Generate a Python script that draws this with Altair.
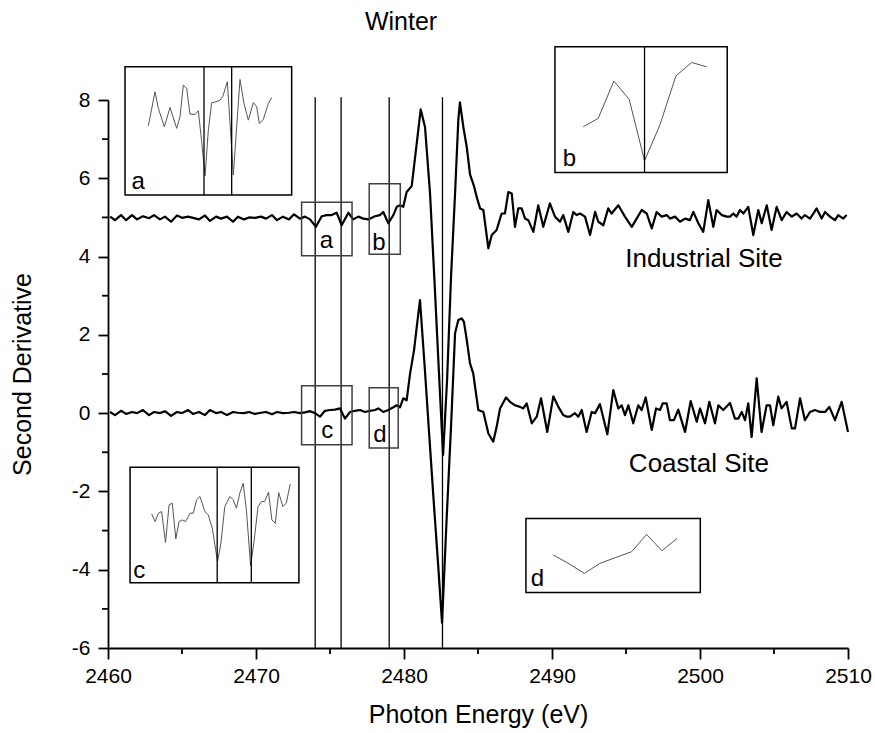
import altair as alt
import pandas as pd

FONT = "Liberation Sans"

# ---------------- main spectra (photon energy eV, second derivative) ----------------
ind_x = [2460.14, 2460.47, 2460.88, 2461.22, 2461.62, 2461.96, 2462.36, 2462.77, 2463.11, 2463.51,
         2463.85, 2464.26, 2464.66, 2465.00, 2465.41, 2465.74, 2466.15, 2466.55, 2466.89, 2467.30,
         2467.64, 2468.04, 2468.45, 2468.78, 2469.19, 2469.53, 2469.93, 2470.34, 2470.68, 2471.08,
         2471.42, 2471.82, 2472.23, 2472.57,
         2472.97, 2473.31, 2473.65, 2474.05, 2474.44, 2474.78, 2475.11, 2475.45, 2475.79, 2476.24,
         2476.57, 2476.91, 2477.25, 2477.59, 2478.04, 2478.38, 2478.60, 2478.94, 2479.28, 2479.51,
         2479.73, 2479.95, 2480.18, 2480.52, 2480.86, 2481.13, 2481.42, 2481.76, 2482.05, 2482.36,
         2482.64, 2482.91, 2483.18, 2483.45, 2483.67, 2483.78, 2484.01, 2484.24, 2484.46, 2484.73,
         2484.93, 2485.14, 2485.36, 2485.70,
         2485.93, 2486.26, 2486.49, 2486.60, 2486.82, 2487.05, 2487.28, 2487.50, 2487.72, 2487.95,
         2488.18, 2488.40, 2488.74, 2489.07, 2489.41, 2489.86, 2490.20, 2490.54, 2490.76, 2491.10,
         2491.44, 2491.67, 2491.89, 2492.23, 2492.57, 2492.91, 2493.13, 2493.47, 2493.80, 2494.03,
         2494.48, 2494.93, 2495.39, 2495.72, 2496.06, 2496.40, 2496.74, 2497.07, 2497.41, 2497.75,
         2497.97, 2498.31, 2498.65, 2498.99, 2499.32, 2499.55, 2499.89, 2500.22, 2500.56, 2500.90,
         2501.12, 2501.47, 2501.80, 2502.03, 2502.25, 2502.47, 2502.70, 2502.93, 2503.26, 2503.60,
         2503.94, 2504.17, 2504.51, 2504.84, 2505.18, 2505.52, 2505.85, 2506.20, 2506.53, 2506.86,
         2507.09, 2507.43, 2507.66, 2507.88, 2508.22, 2508.45, 2508.78, 2509.12, 2509.34, 2509.68,
         2509.91]
ind_y = [5.02, 4.93, 5.06, 4.93, 5.06, 4.95, 5.03, 4.98, 5.06, 4.95,
         5.02, 4.89, 5.05, 4.99, 5.02, 4.99, 4.95, 5.05, 4.91, 5.02,
         4.97, 5.02, 4.89, 5.02, 4.95, 5.00, 4.99, 5.02, 4.97, 5.06,
         4.93, 5.02, 4.95, 5.08,
         4.97, 5.02, 4.95, 4.76, 5.03, 5.06, 5.06, 5.12, 4.80, 5.12,
         4.95, 5.02, 4.97, 4.95, 5.03, 5.06, 5.14, 4.85, 5.06, 5.27,
         5.31, 5.27, 5.65, 5.80, 6.89, 7.76, 7.31, 5.61, 3.45, 1.05,
         -1.07, 0.84, 3.50, 5.61, 7.49, 7.94, 7.31, 6.80, 6.10, 5.80,
         5.50, 5.23, 5.19, 4.21,
         4.55, 4.68, 4.97, 5.10, 5.10, 5.65, 5.61, 4.76, 5.23, 5.23,
         4.97, 4.93, 4.63, 5.31, 4.76, 5.36, 5.02, 4.89, 5.06, 4.63,
         5.14, 5.06, 5.10, 5.02, 4.55, 5.14, 4.89, 4.80, 5.23, 5.10,
         5.31, 5.02, 4.76, 4.97, 5.19, 5.10, 4.72, 5.14, 5.02, 5.06,
         4.97, 5.02, 4.89, 4.97, 4.93, 5.14, 4.85, 4.63, 5.44, 4.76,
         5.19, 5.06, 5.02, 5.02, 5.10, 5.02, 5.19, 5.10, 5.27, 4.55,
         5.19, 4.85, 5.31, 4.68, 5.27, 4.93, 5.14, 5.02, 5.10, 4.97,
         5.06, 4.97, 5.10, 5.23, 4.97, 5.14, 5.02, 4.93, 5.06, 4.97,
         5.06]

coa_x = [2460.14, 2460.47, 2460.88, 2461.22, 2461.62, 2461.96, 2462.36, 2462.77, 2463.11, 2463.51,
         2463.85, 2464.26, 2464.66, 2465.00, 2465.41, 2465.74, 2466.15, 2466.55, 2466.89, 2467.30,
         2467.64, 2468.04, 2468.45, 2468.78, 2469.19, 2469.53, 2469.93, 2470.34, 2470.68, 2471.08,
         2471.42, 2471.82, 2472.23, 2472.57,
         2472.97, 2473.31, 2473.65, 2473.99, 2474.32, 2474.66, 2475.00, 2475.34, 2475.68, 2476.01,
         2476.35, 2476.69, 2477.03, 2477.36, 2477.70, 2478.04, 2478.26, 2478.60, 2478.94, 2479.28,
         2479.50, 2479.73, 2479.95, 2480.18, 2480.41, 2480.68, 2480.86, 2481.08, 2481.39, 2481.69,
         2481.99, 2482.30, 2482.57, 2482.87, 2483.18, 2483.45, 2483.67, 2483.90, 2484.05, 2484.24,
         2484.46, 2484.68, 2485.02, 2485.36, 2485.70, 2486.03, 2486.26, 2486.49, 2486.89,
         2487.16, 2487.50, 2487.84, 2488.06, 2488.29, 2488.63, 2488.97, 2489.26, 2489.68, 2490.09,
         2490.43, 2490.76, 2490.99, 2491.22, 2491.55, 2491.78, 2492.01, 2492.34, 2492.68, 2492.91,
         2493.24, 2493.74, 2494.14, 2494.48, 2494.71, 2494.93, 2495.16, 2495.49, 2495.83, 2496.06,
         2496.33, 2496.74, 2497.03, 2497.30, 2497.48, 2497.75, 2497.97, 2498.24, 2498.53, 2498.99,
         2499.37, 2499.78, 2500.00, 2500.34, 2500.63, 2501.01, 2501.24, 2501.57, 2502.03, 2502.36,
         2502.59, 2502.82, 2503.04, 2503.26, 2503.49, 2503.83, 2504.16, 2504.50, 2504.73, 2504.95,
         2505.29, 2505.51, 2505.85, 2506.20, 2506.42, 2506.76, 2507.09, 2507.43, 2507.77, 2508.11,
         2508.45, 2508.74, 2509.12, 2509.57, 2510.00]
coa_y = [0.03, -0.05, 0.06, -0.02, 0.03, 0.00, 0.08, -0.05, 0.03, 0.00,
         0.05, -0.07, 0.03, 0.00, 0.08, -0.02, 0.03, -0.05, 0.08, 0.00,
         0.03, -0.05, 0.03, 0.01, 0.00, 0.03, -0.02, 0.01, 0.03, -0.03,
         0.03, 0.00, 0.01, 0.03,
         0.00, 0.02, 0.05, 0.00, -0.09, 0.06, 0.08, 0.09, 0.12, -0.14,
         0.03, 0.06, 0.08, 0.03, 0.06, 0.08, 0.12, 0.03, 0.08, 0.15,
         0.20, 0.15, 0.38, 0.33, 1.01, 1.61, 2.20, 2.89, 1.23, -0.48,
         -2.16, -3.84, -5.35, -2.79, -0.32, 2.04, 2.38, 2.42, 2.33, 1.87,
         1.27, 1.01, 0.08, 0.03, -0.52, -0.73, -0.35, 0.12, 0.40,
         0.29, 0.20, 0.16, 0.12, 0.25, -0.26, -0.09, 0.38, -0.48, 0.43,
         0.16, -0.05, -0.09, -0.09, 0.00, -0.09, 0.08, -0.48, 0.03, 0.00,
         0.23, -0.54, 0.59, 0.12, 0.20, -0.05, 0.20, -0.26, 0.20, 0.08,
         0.40, -0.43, 0.12, 0.08, 0.25, 0.25, -0.18, -0.18, 0.09, -0.48,
         0.31, -0.22, 0.12, -0.26, 0.29, -0.26, 0.20, 0.08, 0.26, -0.14,
         -0.14, 0.03, -0.18, 0.25, -0.61, 0.89, -0.48, 0.20, 0.20, -0.31,
         0.42, 0.12, 0.29, -0.39, -0.39, 0.38, -0.18, 0.03, 0.08, 0.03,
         0.03, 0.16, -0.18, 0.29, -0.48]

# ---------------- reference lines and zoom boxes (data units) ----------------
marker_x = [2474.0, 2475.75, 2479.0, 2482.6]
marker_bottom = -6.0
marker_top = 8.07

box_name = ["a", "b", "c", "d"]
box_x0 = [2473.08, 2477.65, 2473.08, 2477.65]
box_x1 = [2476.49, 2479.75, 2476.49, 2479.61]
box_y0 = [4.02, 4.06, -0.81, -0.89]
box_y1 = [5.39, 5.86, 0.70, 0.65]
box_lab_x = [2474.75, 2478.31, 2474.82, 2478.38]
box_lab_y = [4.22, 4.17, -0.64, -0.73]

# ---------------- insets: frames (data units) and curves (fractions of frame) ----------------
inset_name = ["a", "b", "c", "d"]
inset_x0 = [2461.15, 2490.20, 2461.49, 2488.24]
inset_x1 = [2472.41, 2501.84, 2472.90, 2500.02]
inset_y0 = [5.57, 6.15, -4.33, -4.58]   # bottom
inset_y1 = [8.85, 9.36, -1.38, -2.69]   # top
inset_lab_x = [2461.59, 2490.72, 2461.71, 2488.56]
inset_lab_y = [5.72, 6.32, -4.22, -4.42]

inset_a_fx = [.14, .18, .20, .236, .27, .31, .33, .35, .37, .39, .42, .44, .46, .48, .50, .52,
              .546, .57, .586, .614, .634, .65, .67, .69, .714, .74, .77, .79, .806, .83, .86, .88]
inset_a_fy = [.46, .195, .325, .468, .317, .48, .39, .143, .169, .369, .371, .343, .584, .852, .494, .28,
              .273, .26, .234, .117, .519, .844, .468, .099, .286, .416, .28, .312, .442, .41, .286, .239]
inset_b_fx = [.164, .251, .342, .431, .520, .609, .702, .793, .880]
inset_b_fy = [.637, .570, .273, .419, .907, .623, .233, .125, .159]
inset_c_fx = [.128, .148, .168, .187, .210, .231, .250, .271, .290, .309, .329, .355, .374, .394, .414,
              .443, .463, .487, .518, .538, .561, .591, .611, .630, .650, .670, .689, .714, .734, .758,
              .778, .797, .820, .840, .860, .880, .905, .925, .949]
inset_c_fy = [.405, .471, .399, .384, .653, .327, .312, .621, .471, .457, .471, .399, .399, .283, .254,
              .384, .413, .529, .818, .659, .341, .254, .283, .355, .225, .139, .370, .855, .645, .341,
              .298, .298, .217, .457, .486, .220, .341, .312, .145]
inset_d_fx = [.157, .237, .335, .424, .516, .606, .692, .780, .866]
inset_d_fy = [.495, .599, .743, .608, .527, .450, .216, .437, .270]
inset_lines = {"a": [.474, .640], "b": [.520], "c": [.516, .718], "d": []}

site_label = ["Industrial Site", "Coastal Site"]
site_x = [2500.27, 2499.93]
site_y = [3.73, -1.50]

title_text = "Winter"
title_x = 2479.8
title_y = 9.79

y_major = [-6, -4, -2, 0, 2, 4, 6, 8]
y_minor = [-5, -3, -1, 1, 3, 5, 7]
x_major = [2460, 2470, 2480, 2490, 2500, 2510]
x_minor = [2465, 2475, 2485, 2495, 2505]

# ---------------- build tables ----------------
spec = pd.concat([
    pd.DataFrame({"x": ind_x, "y": ind_y, "series": "Industrial"}),
    pd.DataFrame({"x": coa_x, "y": coa_y, "series": "Coastal"}),
])
markers = pd.DataFrame({"x": marker_x, "y0": marker_bottom, "y1": marker_top})
boxes = pd.DataFrame({"name": box_name, "x0": box_x0, "x1": box_x1, "y0": box_y0, "y1": box_y1,
                      "lx": box_lab_x, "ly": box_lab_y})
frames = pd.DataFrame({"name": inset_name, "x0": inset_x0, "x1": inset_x1, "y0": inset_y0, "y1": inset_y1,
                       "lx": inset_lab_x, "ly": inset_lab_y})
fr = frames.set_index("name")

curves = []
for nm, fx, fy in [("a", inset_a_fx, inset_a_fy), ("b", inset_b_fx, inset_b_fy),
                   ("c", inset_c_fx, inset_c_fy), ("d", inset_d_fx, inset_d_fy)]:
    f = fr.loc[nm]
    for i, (a, b) in enumerate(zip(fx, fy)):
        curves.append({"name": nm, "i": i,
                       "x": f.x0 + a * (f.x1 - f.x0),
                       "y": f.y1 - b * (f.y1 - f.y0)})
curves = pd.DataFrame(curves)
ilines = []
for nm, fxs in inset_lines.items():
    f = fr.loc[nm]
    for a in fxs:
        ilines.append({"name": nm, "x": f.x0 + a * (f.x1 - f.x0), "y0": f.y0, "y1": f.y1})
ilines = pd.DataFrame(ilines)
sites = pd.DataFrame({"label": site_label, "x": site_x, "y": site_y})

xs = alt.Scale(domain=[2460, 2510], nice=False, zero=False)
ys = alt.Scale(domain=[-6, 8], nice=False, zero=False)

common_axis = dict(grid=False, labelFlush=False, labelOverlap=False, labelBound=False,
                   labelExpr="'' + datum.value",
                   tickWidth=1.8, tickColor="black", domainColor="black", domainWidth=1.8,
                   labelFontSize=21, labelFont=FONT, labelColor="black",
                   titleFontSize=25, titleFont=FONT, titleFontWeight="normal", titleColor="black")
x_axis = alt.Axis(values=x_major, title="Photon Energy (eV)", tickSize=11, labelPadding=6,
                  titlePadding=16, **common_axis)
y_axis = alt.Axis(values=y_major, title="Second Derivative", tickSize=10, labelPadding=8,
                  titlePadding=36, **common_axis)


def X(field):
    return alt.X(field, scale=xs, axis=x_axis)


def Y(field):
    return alt.Y(field, scale=ys, axis=y_axis)


main = alt.Chart(spec).mark_line(color="black", strokeWidth=2.2, strokeJoin="round").encode(
    x=X("x:Q"), y=Y("y:Q"), detail="series:N")

vlines = alt.Chart(markers).mark_rule(color="black", strokeWidth=1.3).encode(
    x=X("x:Q"), y=Y("y0:Q"), y2="y1:Q")

box_rect = alt.Chart(boxes).mark_rect(fillOpacity=0, stroke="#404040", strokeWidth=1.5).encode(
    x=X("x0:Q"), x2="x1:Q", y=Y("y0:Q"), y2="y1:Q")
box_text = alt.Chart(boxes).mark_text(font=FONT, fontSize=24, color="black", align="center",
                                      baseline="alphabetic").encode(
    x=X("lx:Q"), y=Y("ly:Q"), text="name:N")

frame_rect = alt.Chart(frames).mark_rect(fillOpacity=0, stroke="black", strokeWidth=1.5).encode(
    x=X("x0:Q"), x2="x1:Q", y=Y("y0:Q"), y2="y1:Q")
frame_text = alt.Chart(frames).mark_text(font=FONT, fontSize=24, color="black", align="left",
                                         baseline="alphabetic").encode(
    x=X("lx:Q"), y=Y("ly:Q"), text="name:N")
inset_curve = alt.Chart(curves).mark_line(color="#555555", strokeWidth=1).encode(
    x=X("x:Q"), y=Y("y:Q"), detail="name:N", order="i:Q")
inset_vl = alt.Chart(ilines).mark_rule(color="black", strokeWidth=1.3).encode(
    x=X("x:Q"), y=Y("y0:Q"), y2="y1:Q")

site_text = alt.Chart(sites).mark_text(font=FONT, fontSize=26, color="black", align="center",
                                       baseline="alphabetic").encode(
    x=X("x:Q"), y=Y("y:Q"), text="label:N")

title = alt.Chart(pd.DataFrame({"t": [title_text], "x": [title_x], "y": [title_y]})).mark_text(
    font=FONT, fontSize=25, color="black", align="center", baseline="alphabetic").encode(
    x=X("x:Q"), y=Y("y:Q"), text="t:N")

ymin = alt.Chart(pd.DataFrame({"v": y_minor})).mark_rule(color="black", strokeWidth=1.8).encode(
    y=Y("v:Q"), x=alt.value(-6), x2=alt.value(0))
xmin = alt.Chart(pd.DataFrame({"v": x_minor})).mark_rule(color="black", strokeWidth=1.8).encode(
    x=X("v:Q"), y=alt.value(548), y2=alt.value(554))

chart = alt.layer(main, vlines, box_rect, box_text, frame_rect, frame_text, inset_curve, inset_vl,
                  site_text, title, ymin, xmin).properties(
    width=740, height=548,
    autosize=alt.AutoSizeParams(type="none"),
    padding={"left": 108, "top": 100, "right": 27, "bottom": 85},
    background="white",
).configure_view(stroke=None)

chart.save("out.html", embed_options={"renderer": "svg", "actions": False})
